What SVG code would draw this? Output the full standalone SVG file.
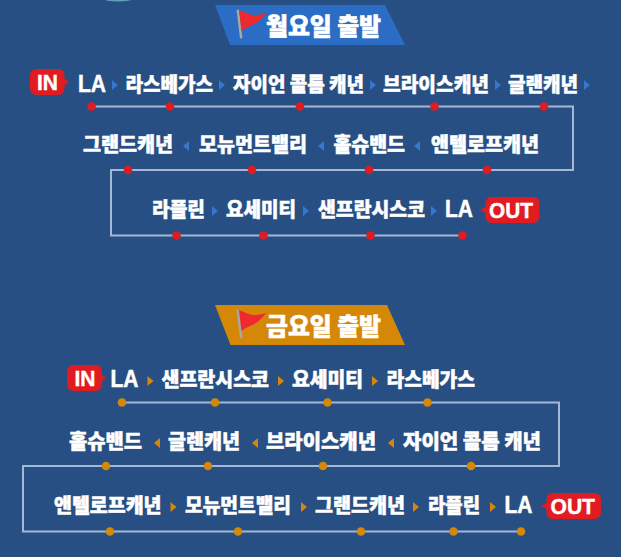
<svg xmlns="http://www.w3.org/2000/svg" width="621" height="557" viewBox="0 0 621 557">
<defs>
<style>
text{font-family:"Noto Sans CJK KR","Noto Sans",sans-serif;font-weight:900;fill:#fff;font-size:20px;text-anchor:start}
.lab{stroke:#fff;stroke-width:.5px}
.la{font-family:"Liberation Sans",sans-serif;font-weight:700;font-size:23px}
.tag{font-family:"Liberation Sans",sans-serif;font-weight:700;font-size:22px;stroke:#fff;stroke-width:.4px}
.ttl{font-size:24px;stroke:#fff;stroke-width:.6px}
.line{fill:none;stroke:#a4b8d4;stroke-width:2}
.r{fill:#e01b22}.o{fill:#d58708}
.ab{fill:#3677cf}.ao{fill:#d58708}
</style>
<g id="flag">
<path d="M-1.500 0L1 -.5L4.500 28L2 28.500Z" fill="#a8a8a8"/>
<path d="M1 0C8 3 13 5 17 5C22 5 26 4 29 2.500C25 6 23 10 18 13C13 16 8 17 3.500 21Z" fill="#ee2a2f"/>
</g>
<path id="ar" d="M0 -5L6 0L0 5Z"/>
<path id="al" d="M6 -5L0 0L6 5Z"/>
</defs>
<rect width="621" height="557" fill="#274f83"/>
<ellipse cx="118" cy="-1" rx="14" ry="2.500" fill="#5ea3b8"/>

<g id="connectors">
<path class="line" d="M91 106.500H573V170H111V235.500H462"/>
<path class="line" d="M122 402.500H559V466H23V531.500H521"/>
</g>

<g id="monday-title">
<path d="M215 5H385L405 45H230Z" fill="#2b6cc4"/>
<use href="#flag" x="238" y="10"/>
<text class="ttl" x="266" y="35" textLength="115" lengthAdjust="spacingAndGlyphs">월요일 출발</text>
</g>

<g id="friday-title">
<path d="M215 305H387L405 345H230.500Z" fill="#d58708"/>
<use href="#flag" x="238" y="310"/>
<text class="ttl" x="266" y="335" textLength="115" lengthAdjust="spacingAndGlyphs">금요일 출발</text>
</g>

<g id="monday-in"><path d="M37 69H58Q64.500 69 64.500 76V79L69 82L64.500 85V88Q64.500 95 58 95H37Q30 95 30 88V76Q30 69 37 69Z" class="r"/><text class="tag" x="37" y="90" textLength="21" lengthAdjust="spacingAndGlyphs">IN</text></g>
<g id="monday-out"><path d="M492 197H533Q539.500 197 539.500 204V216Q539.500 223 533 223H492Q485.500 223 485.500 216V213L480 210L485.500 207V204Q485.500 197 492 197Z" class="r"/><text class="tag" x="489" y="218" textLength="44" lengthAdjust="spacingAndGlyphs">OUT</text></g>
<g id="friday-in"><path d="M74 365H95Q102 365 102 372V375L106 378L102 381V384Q102 391 95 391H74Q67 391 67 384V372Q67 365 74 365Z" class="r"/><text class="tag" x="74.500" y="386" textLength="21" lengthAdjust="spacingAndGlyphs">IN</text></g>
<g id="friday-out"><path d="M553 493H594Q601 493 601 500V512Q601 519 594 519H553Q546.500 519 546.500 512V509L541 506L546.500 503V500Q546.500 493 553 493Z" class="r"/><text class="tag" x="550.500" y="514" textLength="44.500" lengthAdjust="spacingAndGlyphs">OUT</text></g>

<g id="monday-labels" class="lab">
<text class="la" x="78" y="92" textLength="28" lengthAdjust="spacingAndGlyphs">LA</text>
<text x="125.500" y="92" textLength="87.500" lengthAdjust="spacingAndGlyphs">라스베가스</text>
<text x="233" y="92" textLength="131" lengthAdjust="spacingAndGlyphs">자이언 콜롬 캐년</text>
<text x="383" y="92" textLength="106" lengthAdjust="spacingAndGlyphs">브라이스캐년</text>
<text x="508" y="92" textLength="70" lengthAdjust="spacingAndGlyphs">글랜캐년</text>
<text x="83" y="152" textLength="90" lengthAdjust="spacingAndGlyphs">그랜드캐년</text>
<text x="199" y="152" textLength="108" lengthAdjust="spacingAndGlyphs">모뉴먼트밸리</text>
<text x="333.500" y="152" textLength="71.500" lengthAdjust="spacingAndGlyphs">홀슈밴드</text>
<text x="431" y="152" textLength="108" lengthAdjust="spacingAndGlyphs">앤텔로프캐년</text>
<text x="152" y="217" textLength="53" lengthAdjust="spacingAndGlyphs">라플린</text>
<text x="226" y="217" textLength="70" lengthAdjust="spacingAndGlyphs">요세미티</text>
<text x="318" y="217" textLength="107" lengthAdjust="spacingAndGlyphs">샌프란시스코</text>
<text class="la" x="445" y="217" textLength="28" lengthAdjust="spacingAndGlyphs">LA</text>
</g>

<g id="friday-labels" class="lab">
<text class="la" x="110.500" y="387" textLength="28" lengthAdjust="spacingAndGlyphs">LA</text>
<text x="161.500" y="387" textLength="107.500" lengthAdjust="spacingAndGlyphs">샌프란시스코</text>
<text x="292" y="387" textLength="71" lengthAdjust="spacingAndGlyphs">요세미티</text>
<text x="386.500" y="387" textLength="88.500" lengthAdjust="spacingAndGlyphs">라스베가스</text>
<text x="69" y="449" textLength="73" lengthAdjust="spacingAndGlyphs">홀슈밴드</text>
<text x="168" y="449" textLength="72" lengthAdjust="spacingAndGlyphs">글렌캐년</text>
<text x="266" y="449" textLength="110" lengthAdjust="spacingAndGlyphs">브라이스캐년</text>
<text x="403" y="449" textLength="138" lengthAdjust="spacingAndGlyphs">자이언 콜롬 캐년</text>
<text x="54" y="513" textLength="107.500" lengthAdjust="spacingAndGlyphs">앤텔로프캐년</text>
<text x="185" y="513" textLength="106" lengthAdjust="spacingAndGlyphs">모뉴먼트밸리</text>
<text x="315" y="513" textLength="90" lengthAdjust="spacingAndGlyphs">그랜드캐년</text>
<text x="428" y="513" textLength="52" lengthAdjust="spacingAndGlyphs">라플린</text>
<text class="la" x="504.500" y="513" textLength="28" lengthAdjust="spacingAndGlyphs">LA</text>
</g>

<g id="monday-arrows" class="ab">
<use href="#ar" x="112" y="85"/><use href="#ar" x="219" y="85"/><use href="#ar" x="370" y="85"/><use href="#ar" x="495" y="85"/><use href="#ar" x="584" y="85"/>
<use href="#al" x="183" y="146"/><use href="#al" x="318" y="146"/><use href="#al" x="414" y="146"/>
<use href="#ar" x="212" y="211"/><use href="#ar" x="303" y="211"/><use href="#ar" x="431" y="211"/>
</g>
<g id="friday-arrows" class="ao">
<use href="#ar" x="147.500" y="381"/><use href="#ar" x="278" y="381"/><use href="#ar" x="372" y="381"/>
<use href="#al" x="154" y="443"/><use href="#al" x="252" y="443"/><use href="#al" x="388" y="443"/>
<use href="#ar" x="170.500" y="507"/><use href="#ar" x="301" y="507"/><use href="#ar" x="413" y="507"/><use href="#ar" x="490" y="507"/>
</g>

<g id="monday-dots" class="r">
<circle cx="91.500" cy="106.500" r="4.300"/><circle cx="170" cy="106.500" r="4.300"/><circle cx="300" cy="106.500" r="4.300"/><circle cx="434.500" cy="106.500" r="4.300"/><circle cx="544" cy="106.500" r="4.300"/>
<circle cx="128" cy="170" r="4.300"/><circle cx="252" cy="170" r="4.300"/><circle cx="369" cy="170" r="4.300"/><circle cx="487" cy="170" r="4.300"/>
<circle cx="176.500" cy="235.500" r="4.300"/><circle cx="263.500" cy="235.500" r="4.300"/><circle cx="370.500" cy="235.500" r="4.300"/><circle cx="462.500" cy="235.500" r="4.300"/>
</g>
<g id="friday-dots" class="o">
<circle cx="122" cy="402.500" r="4.300"/><circle cx="215" cy="402.500" r="4.300"/><circle cx="327.500" cy="402.500" r="4.300"/><circle cx="427.500" cy="402.500" r="4.300"/>
<circle cx="106" cy="466" r="4.300"/><circle cx="208" cy="466" r="4.300"/><circle cx="323" cy="466" r="4.300"/><circle cx="471" cy="466" r="4.300"/>
<circle cx="110" cy="531.500" r="4.300"/><circle cx="238" cy="531.500" r="4.300"/><circle cx="361" cy="531.500" r="4.300"/><circle cx="453.500" cy="531.500" r="4.300"/><circle cx="521" cy="531.500" r="4.300"/>
</g>
</svg>
